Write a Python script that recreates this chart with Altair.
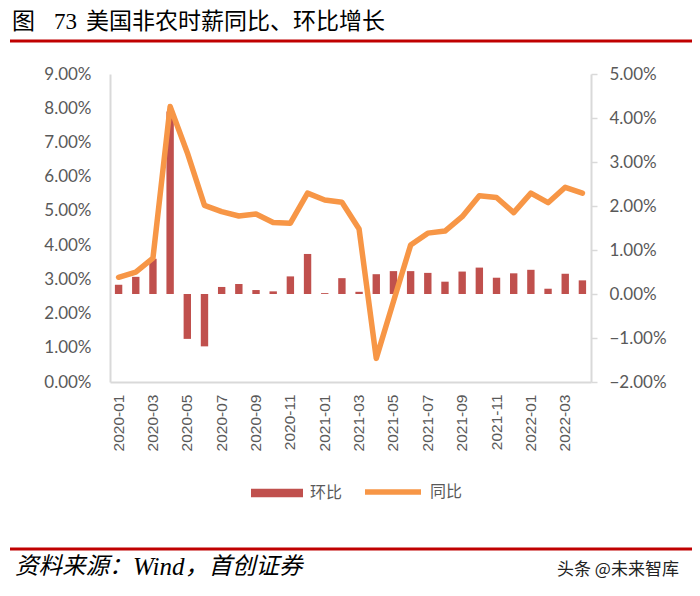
import altair as alt
import pandas as pd

months = ["2020-01", "2020-02", "2020-03", "2020-04", "2020-05", "2020-06",
          "2020-07", "2020-08", "2020-09", "2020-10", "2020-11", "2020-12",
          "2021-01", "2021-02", "2021-03", "2021-04", "2021-05", "2021-06",
          "2021-07", "2021-08", "2021-09", "2021-10", "2021-11", "2021-12",
          "2022-01", "2022-02", "2022-03", "2022-04"]

# 同比 (left axis)
yoy = [0.0306, 0.0321, 0.0362, 0.0805, 0.0670, 0.0516, 0.0498, 0.0485,
       0.0491, 0.0466, 0.0464, 0.0552, 0.0532, 0.0525, 0.0447, 0.0069,
       0.0235, 0.0400, 0.0435, 0.0441, 0.0483, 0.0544, 0.0539, 0.0495,
       0.0552, 0.0524, 0.0569, 0.0552]

# 环比 (right axis)
mom = [0.0021, 0.0039, 0.0080, 0.0415, -0.0102, -0.0119, 0.0016, 0.0023,
       0.0009, 0.0006, 0.0040, 0.0091, 0.0002, 0.0036, 0.0005, 0.0045,
       0.0052, 0.0052, 0.0048, 0.0028, 0.0051, 0.0060, 0.0037, 0.0047,
       0.0055, 0.0012, 0.0046, 0.0031]

tick_months = ["2020-01", "2020-03", "2020-05", "2020-07", "2020-09", "2020-11",
               "2021-01", "2021-03", "2021-05", "2021-07", "2021-09", "2021-11",
               "2022-01", "2022-03"]
left_ticks = [0.0, 0.01, 0.02, 0.03, 0.04, 0.05, 0.06, 0.07, 0.08, 0.09]
right_ticks = [-0.02, -0.01, 0.0, 0.01, 0.02, 0.03, 0.04, 0.05]

series_mom = "环比"
series_yoy = "同比"
title_fig = "图"
title_num = "73"
title_text = "美国非农时薪同比、环比增长"
src1 = "资料来源："
src2 = "Wind"
src3 = "，首创证券"
watermark = "头条 @未来智库"

df = pd.DataFrame({"month": months, "yoy": yoy, "mom": mom,
                   "s1": series_mom, "s2": series_yoy})

GREY = "#595959"
AXIS = "#D9D9D9"
CJK = "Noto Sans CJK SC"
TITLE_FONT = "Liberation Sans, Noto Sans CJK SC"

x_enc = alt.X("month:O", sort=months,
              scale=alt.Scale(paddingInner=0.57, paddingOuter=0.285),
              axis=alt.Axis(values=tick_months, labelAngle=-90, labelFont="Liberation Sans",
                            labelFontSize=15.5, labelColor=GREY, ticks=False,
                            domainColor=AXIS, domainWidth=2, labelPadding=12,
                            title=None, grid=False))

bars = alt.Chart(df).mark_bar().encode(
    x=x_enc,
    y=alt.Y("mom:Q", scale=alt.Scale(domain=[-0.02, 0.05], nice=False, zero=False),
            axis=alt.Axis(orient="right", values=right_ticks, format=".2%", title=None,
                          grid=False, domainColor=AXIS, domainWidth=2, ticks=True,
                          tickColor=AXIS, tickSize=6, tickWidth=1.5, labelPadding=12,
                          labelFont="Lato", labelFontSize=17, labelColor=GREY)),
    color=alt.Color("s1:N", scale=alt.Scale(domain=[series_mom], range=["#C0504D"]),
                    legend=alt.Legend(orient="none", legendX=141, legendY=393, title=None,
                                      symbolType="M-1,-0.16H1V0.16H-1Z", symbolSize=2704,
                                      symbolStrokeWidth=0, symbolOpacity=1,
                                      labelFont=CJK, labelFontSize=16, labelColor=GREY,
                                      labelOffset=7)),
)

line = alt.Chart(df).mark_line(strokeWidth=5.5, strokeJoin="round", strokeCap="round").encode(
    x=x_enc,
    y=alt.Y("yoy:Q", scale=alt.Scale(domain=[0, 0.09], nice=False),
            axis=alt.Axis(orient="left", values=left_ticks, format=".2%", title=None,
                          grid=False, domainColor=AXIS, domainWidth=2, ticks=False,
                          labelPadding=19, labelFont="Lato", labelFontSize=17,
                          labelColor=GREY)),
    stroke=alt.Stroke("s2:N", scale=alt.Scale(domain=[series_yoy], range=["#F79646"]),
                      legend=alt.Legend(orient="none", legendX=252, legendY=387, title=None,
                                        symbolType="stroke", symbolSize=3136,
                                        symbolStrokeWidth=5.5, symbolOpacity=1,
                                        labelFont=CJK, labelFontSize=16, labelColor=GREY,
                                        labelOffset=6)),
)


def txt(s, x, y, size, font=CJK, color="black", style="normal", align="left"):
    return alt.Chart(pd.DataFrame({"t": [s]})).mark_text(
        font=font, fontSize=size, color=color, fontStyle=style, align=align,
        baseline="middle").encode(text="t:N", x=alt.value(x), y=alt.value(y))


def hrule(y):
    return alt.Chart(pd.DataFrame({"a": [0]})).mark_rule(color="#C00000", strokeWidth=3).encode(
        x=alt.value(-100), x2=alt.value(582), y=alt.value(y))


deco = [
    txt(title_fig, -98, -52, 23, font=TITLE_FONT),
    txt(title_num, -56, -52, 23, font="Liberation Serif"),
    txt(title_text, -24, -52, 23, font=TITLE_FONT),
    hrule(-33),
    hrule(475),
    txt(src1, -95, 493, 23.5, style="italic"),
    txt(src2, 23, 493, 25, font="Liberation Serif", style="italic"),
    txt(src3, 75, 493, 23.5, style="italic"),
    txt(watermark, 447, 496, 17, color="#222222"),
]

chart = alt.layer(bars, line, *deco).resolve_scale(
    y="independent"
).properties(
    width=481, height=308,
    padding={"left": 102, "top": 66, "right": 101, "bottom": 206},
    autosize=alt.AutoSizeParams(type="none"),
).configure_view(stroke=None)

chart.save("out.html", embed_options={"renderer": "svg", "actions": False})
